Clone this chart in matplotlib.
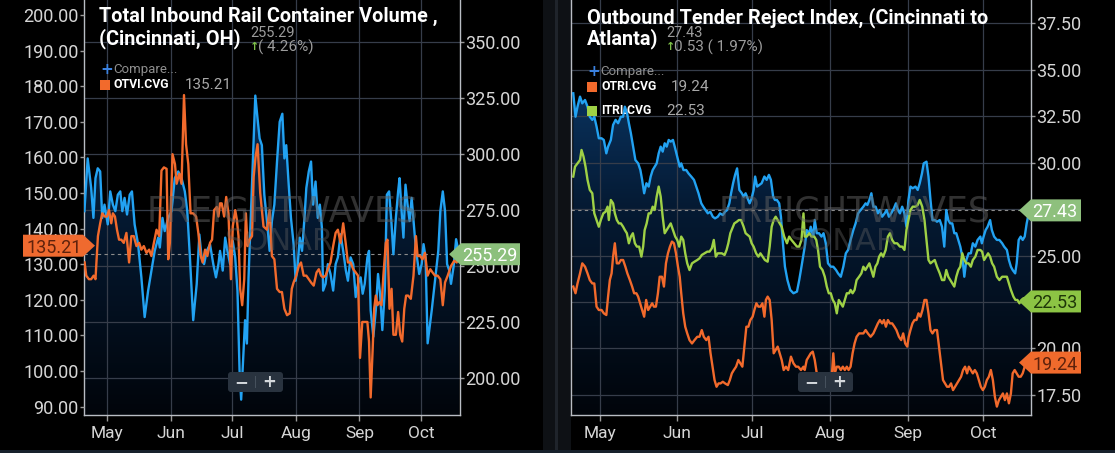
import numpy as np
import pandas as pd
import matplotlib
matplotlib.use("Agg")
import matplotlib.pyplot as plt
import matplotlib.dates as mdates
from matplotlib.colors import LinearSegmentedColormap
from matplotlib.patches import Polygon, Rectangle, FancyBboxPatch
from matplotlib.ticker import FixedLocator, FuncFormatter
from matplotlib.transforms import IdentityTransform

W, H = 1115, 453
BASE = pd.Timestamp("2021-05-01")
X_FIRST, X_LAST = -11.4, 172.1      # visible window, days from May 1

# ---- left chart: rail container volume (right axis) vs OTVI.CVG (left axis) ----
rail_days = [
    -11.2, -9.6, -7.9, -6.8, -5.8, -4.7, -3.5, -2.5, -1.4, 0.2,
    1.4, 2.7, 3.9, 5.1, 6.3, 7.3, 8.4, 9.6, 10.9, 12.0,
    13.3, 15.0, 16.6, 18.2, 19.9, 21.5, 23.1, 24.8, 25.6, 26.9,
    28.0, 29.7, 31.3, 32.9, 34.6, 36.2, 37.8, 39.0, 40.3, 41.9,
    43.6, 44.9, 46.0, 47.2, 48.5, 50.1, 51.7, 53.0, 54.2, 55.0,
    56.3, 57.5, 58.6, 59.9, 61.2, 62.4, 63.5, 64.5, 65.3, 66.1,
    67.2, 68.1, 68.9, 70.0, 71.0, 72.2, 73.3, 74.3, 75.4, 76.6,
    77.9, 79.2, 80.3, 81.5, 82.8, 84.1, 85.4, 86.4, 87.3, 88.5,
    89.6, 90.9, 91.9, 92.9, 93.9, 95.0, 96.2, 97.1, 98.3, 99.4,
    100.4, 101.6, 102.7, 103.7, 104.7, 105.3, 106.5, 107.6, 108.9, 110.2,
    111.4, 112.5, 113.8, 115.1, 116.4, 117.4, 118.7, 120.0, 121.2, 122.3,
    123.6, 124.6, 125.6, 126.9, 127.7, 128.5, 129.8, 131.0, 132.1, 133.1,
    134.2, 135.4, 136.4, 137.5, 138.7, 139.6, 140.8, 141.9, 142.6, 143.6,
    144.5, 145.5, 146.5, 147.5, 148.5, 149.4, 150.1, 151.1, 152.2, 153.4,
    154.3, 155.3, 156.3, 157.1, 158.3, 159.2, 160.4, 161.5, 162.5, 163.7,
    164.8, 165.8, 166.9, 167.7, 169.0, 170.2, 171.6]
rail_volume = [
    274.5, 298.0, 284.8, 271.5, 289.2, 293.6, 292.2, 271.5, 277.4, 268.6,
    283.3, 277.4, 274.5, 281.8, 283.3, 274.5, 280.4, 273.0, 281.8, 283.3,
    268.6, 259.7, 245.0, 227.3, 239.1, 248.0, 256.8, 262.7, 258.3, 271.5,
    265.6, 271.5, 274.5, 289.2, 292.2, 289.2, 283.3, 274.5, 253.8, 225.9,
    242.0, 264.1, 253.8, 250.9, 256.8, 259.7, 250.9, 245.0, 250.9, 256.8,
    248.0, 262.7, 256.8, 250.9, 261.2, 253.8, 239.1, 203.8, 190.5, 205.2,
    225.9, 215.5, 245.0, 271.5, 296.6, 326.0, 315.7, 306.9, 303.9, 281.8,
    270.1, 256.8, 270.1, 277.4, 296.6, 314.3, 317.9, 298.0, 303.9, 286.3,
    271.5, 259.8, 243.5, 250.9, 262.7, 256.8, 271.5, 284.8, 292.2, 296.6,
    277.4, 287.7, 271.5, 277.4, 267.1, 239.1, 242.1, 250.9, 246.5, 239.1,
    250.9, 253.9, 264.2, 256.8, 248.0, 243.5, 253.9, 250.9, 236.2, 242.1,
    245.0, 237.7, 242.1, 253.9, 256.8, 230.3, 218.5, 230.3, 246.5, 237.7,
    221.5, 239.1, 281.8, 283.3, 268.6, 255.3, 271.5, 283.3, 289.2, 274.5,
    262.7, 286.3, 277.4, 270.1, 280.4, 270.1, 262.7, 253.9, 246.5, 250.9,
    259.8, 253.9, 215.6, 221.5, 230.3, 237.7, 248.0, 256.8, 274.5, 283.3,
    274.5, 250.9, 248.0, 242.1, 250.0, 262.0, 255.29]

otvi_days = [
    -11.1, -10.3, -9.0, -7.9, -6.7, -5.8, -4.6, -3.5, -2.5, -1.3,
    -0.2, 0.8, 1.9, 2.7, 3.7, 4.7, 5.7, 6.8, 8.0, 9.3,
    10.6, 11.7, 12.9, 14.2, 15.5, 16.6, 17.8, 19.1, 20.4, 21.5,
    22.7, 24.0, 25.3, 26.4, 27.6, 28.9, 29.7, 30.5, 31.8, 33.0,
    33.8, 35.1, 36.2, 37.4, 38.4, 39.5, 40.6, 41.9, 43.3, 44.4,
    45.6, 46.5, 47.7, 48.8, 50.1, 51.1, 52.1, 53.4, 54.2, 55.0,
    55.8, 57.0, 58.0, 59.1, 60.3, 61.2, 62.4, 63.2, 64.0, 64.8,
    65.8, 66.8, 67.6, 68.4, 69.4, 70.6, 71.4, 72.3, 73.3, 74.6,
    76.2, 77.9, 79.2, 80.3, 81.5, 82.8, 84.1, 85.2, 86.4, 87.7,
    89.0, 90.0, 90.9, 92.2, 93.4, 94.5, 95.8, 97.1, 98.3, 99.4,
    100.7, 102.1, 103.2, 104.3, 105.3, 106.5, 107.6, 108.9, 110.2, 111.4,
    112.5, 113.8, 115.1, 116.3, 117.4, 118.7, 120.0, 121.2, 122.3, 123.3,
    124.4, 125.6, 126.9, 127.7, 128.5, 129.5, 130.2, 131.0, 131.8, 132.8,
    133.8, 134.7, 135.9, 136.7, 137.7, 138.7, 139.6, 140.8, 141.9, 142.9,
    143.9, 144.9, 145.8, 146.8, 148.1, 149.4, 150.6, 151.4, 152.7, 153.8,
    155.0, 156.3, 157.6, 158.7, 159.9, 161.2, 162.5, 163.7, 164.8, 166.1,
    167.7, 169.3, 170.5, 171.6]
otvi_values = [
    130.5, 126.8, 125.8, 125.8, 126.8, 125.8, 137.9, 141.5, 144.3, 143.4,
    143.4, 145.2, 141.5, 144.3, 143.4, 139.7, 136.9, 136.9, 136.0, 138.8,
    130.5, 137.9, 137.9, 135.1, 136.0, 134.1, 135.1, 133.2, 134.1, 132.3,
    136.0, 139.7, 137.9, 156.3, 157.2, 156.8, 131.4, 136.0, 160.9, 158.1,
    152.6, 155.4, 152.6, 177.5, 163.7, 158.1, 144.3, 144.3, 143.4, 138.8,
    132.3, 130.5, 134.1, 132.3, 136.0, 136.9, 145.2, 146.1, 143.4, 147.1,
    147.1, 143.4, 148.9, 144.3, 125.8, 140.6, 145.2, 142.5, 137.9, 123.1,
    118.5, 125.8, 144.3, 135.1, 136.9, 137.9, 154.5, 160.0, 163.7, 150.0,
    140.6, 139.7, 145.2, 132.3, 131.4, 123.1, 122.2, 122.2, 117.5, 115.7,
    116.2, 123.1, 124.9, 126.8, 129.5, 130.5, 126.8, 126.8, 125.8, 124.9,
    124.0, 127.7, 128.6, 126.8, 126.3, 126.8, 128.6, 130.5, 135.1, 138.8,
    139.7, 136.0, 141.5, 136.0, 130.5, 130.5, 128.6, 127.7, 126.8, 103.7,
    113.8, 113.8, 113.8, 108.3, 92.6, 106.5, 117.5, 121.2, 118.5, 119.4,
    118.5, 126.8, 136.0, 136.9, 117.5, 123.1, 110.2, 110.2, 116.6, 110.2,
    108.3, 117.5, 121.2, 121.2, 120.3, 126.8, 137.9, 132.3, 132.3, 131.4,
    133.2, 126.8, 128.6, 127.7, 126.8, 126.8, 125.8, 118.5, 124.9, 126.8,
    129.5, 131.0, 130.5, 133.0]

# ---- right chart: tender reject indices, Cincinnati to Atlanta ----
lane_days = [
    -10.5, -9.6, -8.8, -7.8, -6.9, -5.8, -4.8, -3.9, -2.9, -2.1,
    -1.2, -0.3, 0.8, 1.7, 2.7, 3.4, 4.5, 5.4, 6.4, 7.4,
    8.5, 9.4, 10.1, 11.0, 11.7, 12.5, 13.4, 14.3, 15.4, 16.3,
    17.0, 17.8, 18.7, 19.6, 20.4, 21.2, 22.0, 22.8, 23.6, 24.4,
    25.2, 26.0, 26.8, 27.6, 28.4, 29.3, 30.0, 31.0, 32.0, 32.6,
    33.5, 34.6, 35.5, 36.6, 37.7, 38.6, 39.5, 40.6, 41.4, 42.3,
    43.2, 44.2, 45.2, 46.1, 47.2, 48.1, 49.2, 50.1, 50.9, 51.8,
    52.5, 53.3, 54.1, 54.9, 55.8, 56.8, 57.5, 58.3, 59.1, 59.9,
    60.7, 61.5, 62.1, 62.9, 63.8, 64.7, 65.8, 66.7, 67.6, 68.4,
    69.3, 70.0, 70.8, 71.7, 72.4, 73.2, 74.0, 75.0, 76.1, 77.4,
    78.8, 79.7, 80.6, 81.9, 82.7, 83.7, 84.3, 85.3, 85.9, 86.7,
    87.6, 88.6, 89.4, 90.3, 91.2, 92.3, 93.3, 94.4, 95.2, 96.3,
    97.3, 98.3, 99.2, 100.2, 101.3, 102.2, 103.2, 104.2, 105.3, 106.2,
    106.9, 107.7, 108.5, 109.3, 110.2, 111.1, 111.9, 112.8, 113.8, 114.6,
    115.5, 116.4, 117.5, 118.3, 119.1, 119.9, 120.8, 121.7, 122.5, 123.3,
    124.1, 125.0, 126.1, 127.0, 127.8, 128.7, 129.4, 130.5, 131.3, 132.1,
    132.9, 133.8, 134.7, 135.8, 136.7, 137.6, 138.4, 139.2, 140.0, 140.8,
    141.6, 142.4, 143.2, 144.0, 144.8, 145.6, 146.4, 147.3, 148.2, 149.0,
    150.0, 150.9, 152.0, 152.6, 153.3, 154.1, 154.9, 155.9, 156.6, 157.5,
    158.6, 159.6, 160.7, 161.5, 162.6, 163.4, 164.2, 164.9, 165.9, 166.5,
    167.3, 168.1, 168.9, 169.7, 170.5, 171.3, 172.0]
lane_index = [
    33.73, 32.47, 33.01, 33.55, 33.19, 33.37, 33.01, 32.47, 32.30, 32.47,
    31.94, 31.31, 31.31, 31.22, 30.50, 30.86, 31.22, 32.03, 32.30, 32.12,
    32.47, 32.47, 33.01, 32.65, 32.12, 31.58, 30.86, 30.14, 29.96, 29.60,
    29.07, 28.35, 28.89, 28.71, 29.25, 29.60, 29.78, 29.96, 30.50, 30.86,
    30.59, 31.04, 30.86, 31.22, 31.13, 31.22, 30.86, 30.32, 29.78, 29.96,
    29.60, 29.60, 29.42, 29.25, 29.07, 28.71, 28.35, 27.81, 27.63, 27.45,
    27.27, 27.36, 27.09, 27.00, 27.09, 27.27, 27.18, 27.36, 27.45, 27.81,
    28.35, 28.89, 29.34, 29.69, 28.53, 28.35, 28.17, 28.35, 28.08, 27.81,
    28.08, 28.53, 29.25, 28.71, 28.80, 28.89, 29.25, 29.07, 29.34, 29.07,
    28.17, 27.99, 27.99, 27.81, 27.09, 25.66, 24.40, 23.68, 23.15, 22.97,
    23.06, 23.68, 24.40, 25.48, 26.37, 26.20, 26.55, 26.02, 26.91, 26.20,
    26.20, 26.02, 26.20, 25.66, 24.58, 24.40, 24.40, 24.22, 24.04, 23.86,
    24.40, 25.12, 25.30, 25.84, 26.37, 26.73, 27.27, 27.45, 27.63, 27.81,
    27.72, 27.99, 28.35, 27.63, 27.63, 27.27, 27.45, 27.09, 27.27, 27.45,
    27.09, 27.27, 27.54, 27.81, 27.45, 27.27, 27.63, 27.27, 26.55, 27.99,
    28.71, 28.62, 28.71, 28.53, 28.89, 29.42, 29.96, 30.05, 29.25, 27.99,
    26.91, 26.91, 26.82, 26.91, 26.55, 25.48, 27.45, 26.91, 26.73, 26.73,
    26.20, 26.20, 25.84, 25.48, 24.94, 23.86, 24.76, 25.12, 25.12, 25.66,
    25.48, 25.84, 26.02, 25.66, 26.02, 26.37, 26.55, 26.91, 26.37, 26.02,
    25.84, 25.84, 25.66, 25.48, 25.30, 24.76, 24.40, 24.22, 24.04, 24.58,
    25.84, 26.02, 25.84, 26.02, 26.73, 27.27, 27.43]

itri_days = [
    -10.5, -9.8, -8.8, -7.8, -7.2, -6.4, -5.6, -4.8, -3.9, -2.9,
    -2.1, -1.2, -0.3, 0.5, 1.5, 2.4, 3.2, 3.7, 4.5, 5.4,
    6.1, 6.9, 7.7, 8.5, 9.4, 10.1, 10.9, 11.7, 12.5, 13.3,
    14.1, 14.9, 15.8, 16.7, 17.4, 18.0, 18.8, 19.6, 20.4, 21.2,
    22.0, 22.8, 23.6, 24.4, 25.2, 26.0, 26.8, 27.6, 28.4, 29.3,
    30.2, 31.0, 31.8, 32.6, 33.4, 34.2, 35.0, 35.9, 36.9, 37.9,
    39.0, 39.9, 40.8, 41.9, 43.0, 43.9, 44.8, 45.6, 46.4, 47.2,
    48.0, 48.8, 49.9, 50.7, 51.4, 52.2, 53.0, 53.8, 54.8, 55.6,
    56.5, 57.5, 58.3, 59.1, 59.9, 60.7, 61.5, 62.5, 63.4, 64.2,
    65.1, 66.0, 67.1, 67.9, 68.7, 69.5, 70.3, 71.1, 71.9, 72.7,
    73.7, 74.8, 75.7, 76.6, 77.7, 78.8, 79.7, 80.6, 81.4, 81.9,
    82.7, 83.7, 84.6, 85.7, 86.5, 87.2, 88.0, 89.0, 89.9, 90.7,
    91.5, 92.3, 93.1, 93.9, 94.7, 95.5, 96.3, 97.1, 97.9, 98.7,
    99.6, 100.2, 101.0, 101.8, 102.6, 103.6, 104.5, 105.3, 106.1, 106.9,
    107.7, 108.5, 109.3, 110.1, 110.9, 111.6, 112.4, 113.2, 114.2, 115.1,
    115.9, 116.8, 117.7, 118.8, 119.9, 120.8, 121.7, 122.5, 123.3, 124.1,
    125.0, 126.1, 127.0, 127.8, 128.8, 129.7, 130.5, 131.3, 132.1, 132.9,
    133.8, 134.7, 135.8, 136.7, 137.6, 138.4, 139.2, 140.0, 140.8, 141.6,
    142.4, 143.2, 144.0, 144.8, 145.6, 146.4, 147.3, 148.2, 149.0, 150.0,
    150.9, 152.0, 152.7, 153.5, 154.3, 155.1, 155.9, 156.7, 157.5, 158.6,
    159.6, 160.7, 161.5, 162.6, 163.4, 164.2, 165.2, 166.0, 166.8, 167.6,
    168.4, 169.2, 170.5, 171.8]
itri_values = [
    29.25, 29.78, 29.96, 30.14, 30.68, 30.32, 29.78, 29.07, 28.53, 28.35,
    27.27, 26.91, 26.55, 26.91, 27.27, 27.36, 27.63, 26.91, 27.99, 27.81,
    27.27, 26.91, 26.73, 26.73, 26.55, 26.37, 26.20, 25.66, 26.02, 26.20,
    25.66, 25.48, 25.48, 24.94, 25.48, 26.37, 26.73, 27.27, 27.27, 27.63,
    27.45, 28.17, 28.71, 28.17, 27.09, 26.20, 26.37, 26.55, 26.73, 26.37,
    26.02, 25.84, 25.48, 26.02, 25.84, 25.12, 24.58, 24.22, 24.58, 24.67,
    24.76, 24.85, 25.03, 25.12, 25.21, 25.21, 25.39, 25.84, 24.94, 25.12,
    25.12, 25.12, 25.03, 25.30, 25.66, 26.20, 26.46, 26.73, 26.82, 26.91,
    26.91, 26.55, 26.20, 26.11, 26.02, 25.66, 25.48, 25.12, 24.94, 25.12,
    24.94, 24.76, 24.67, 25.48, 26.55, 26.91, 27.09, 26.91, 26.73, 26.55,
    26.02, 25.66, 26.02, 25.84, 25.66, 25.48, 25.48, 25.84, 27.27, 26.02,
    26.02, 26.20, 26.02, 26.02, 25.84, 25.30, 24.40, 24.22, 23.86, 23.33,
    22.97, 22.97, 22.61, 22.43, 21.89, 22.61, 22.43, 22.25, 22.61, 22.97,
    22.97, 23.15, 22.97, 23.15, 23.68, 23.86, 24.04, 24.40, 24.22, 24.40,
    24.58, 24.22, 23.86, 24.40, 24.58, 24.94, 25.12, 24.94, 25.30, 26.02,
    26.20, 25.84, 25.66, 25.66, 25.48, 25.48, 25.30, 26.37, 26.91, 27.45,
    27.63, 27.63, 27.72, 27.99, 27.63, 26.91, 25.84, 24.76, 24.58, 24.67,
    24.76, 24.40, 24.04, 23.68, 23.68, 24.22, 23.86, 23.68, 23.50, 23.33,
    23.86, 24.22, 24.40, 25.12, 24.76, 24.58, 24.58, 24.40, 24.76, 24.94,
    25.30, 25.30, 25.21, 24.76, 24.94, 25.12, 24.94, 24.58, 24.40, 23.86,
    23.68, 23.86, 23.86, 23.86, 23.50, 23.15, 22.79, 22.61, 22.61, 22.43,
    22.61, 22.70, 22.70, 22.53]

otri_days = [
    -10.5, -9.6, -8.8, -7.8, -6.9, -5.8, -4.8, -3.9, -2.9, -2.1,
    -1.2, -0.3, 0.8, 1.7, 2.7, 3.4, 4.1, 4.8, 5.4, 6.1,
    6.9, 7.7, 8.5, 9.4, 10.3, 11.1, 12.1, 13.0, 13.8, 14.7,
    15.4, 16.2, 17.0, 17.8, 18.6, 19.4, 20.2, 21.0, 21.7, 22.5,
    23.3, 24.0, 24.9, 25.7, 26.5, 27.3, 28.1, 28.9, 29.7, 30.5,
    31.3, 32.0, 32.6, 33.4, 34.2, 35.0, 35.9, 36.9, 37.9, 39.0,
    39.9, 40.8, 41.6, 42.6, 43.5, 44.3, 45.1, 45.9, 46.7, 47.5,
    48.3, 49.2, 50.1, 51.2, 52.0, 52.8, 53.6, 54.5, 55.4, 56.2,
    57.0, 57.8, 58.6, 59.4, 60.2, 61.1, 61.8, 62.6, 63.4, 64.2,
    65.0, 65.8, 66.4, 67.1, 67.9, 68.7, 69.5, 70.3, 71.1, 71.9,
    72.7, 73.5, 74.4, 75.3, 76.4, 77.4, 78.4, 79.3, 80.4, 81.4,
    81.9, 82.7, 83.5, 84.3, 85.1, 85.9, 86.7, 87.5, 88.3, 89.4,
    90.4, 91.5, 92.6, 93.3, 93.9, 94.7, 95.5, 96.3, 97.1, 97.9,
    98.7, 99.4, 100.2, 101.0, 101.8, 102.6, 103.6, 104.5, 105.3, 106.2,
    107.1, 108.2, 109.3, 110.2, 111.1, 111.9, 112.8, 113.5, 114.3, 115.1,
    115.9, 116.8, 117.7, 118.5, 119.5, 120.4, 121.2, 122.0, 122.8, 123.4,
    124.1, 124.9, 125.7, 126.5, 127.3, 128.1, 128.9, 129.7, 130.5, 131.3,
    132.1, 132.9, 133.7, 134.7, 135.5, 136.3, 137.1, 137.9, 138.7, 139.5,
    140.3, 141.1, 141.9, 142.7, 143.5, 144.3, 145.1, 145.9, 146.7, 147.4,
    148.2, 149.0, 149.8, 150.6, 151.4, 152.2, 153.0, 153.8, 154.6, 155.4,
    156.2, 157.0, 157.8, 158.6, 159.4, 160.2, 161.0, 161.8, 162.6, 163.4,
    164.2, 164.9, 165.7, 166.5, 167.3, 168.1, 168.9, 169.7, 170.5, 171.8]
otri_values = [
    23.33, 22.97, 23.50, 24.04, 24.58, 24.40, 24.04, 23.68, 23.50, 23.50,
    22.25, 22.07, 22.07, 21.89, 21.80, 22.79, 23.68, 24.04, 24.94, 25.66,
    24.58, 24.58, 24.76, 24.76, 24.40, 24.04, 23.68, 23.33, 22.97, 22.97,
    22.79, 22.43, 22.07, 21.71, 22.61, 22.07, 22.25, 22.43, 22.25, 22.25,
    22.97, 23.86, 23.86, 23.33, 24.58, 25.12, 25.48, 25.75, 25.66, 25.12,
    24.40, 23.86, 22.97, 21.89, 21.17, 20.81, 20.45, 20.27, 20.45, 20.63,
    20.63, 20.99, 20.63, 20.45, 20.63, 19.74, 19.02, 18.30, 17.94, 18.12,
    18.12, 18.21, 18.12, 18.03, 18.30, 18.66, 18.84, 19.02, 19.38, 19.20,
    19.02, 20.10, 21.17, 21.17, 21.53, 21.71, 22.07, 22.43, 22.25, 22.25,
    22.43, 21.71, 22.61, 22.79, 22.61, 21.53, 19.74, 19.92, 20.10, 19.74,
    19.38, 18.84, 19.02, 18.84, 19.56, 19.20, 19.02, 19.02, 18.84, 19.02,
    18.84, 19.38, 19.56, 19.74, 19.83, 19.38, 18.66, 18.12, 17.94, 17.94,
    17.85, 17.94, 18.30, 19.74, 18.66, 19.02, 19.02, 18.84, 19.02, 18.84,
    19.02, 18.84, 19.02, 19.74, 20.27, 20.63, 20.81, 20.81, 20.81, 20.99,
    20.81, 20.63, 20.81, 21.08, 21.35, 21.53, 21.35, 21.53, 21.17, 21.53,
    21.35, 21.35, 21.17, 20.99, 20.63, 20.45, 20.81, 20.27, 20.10, 20.63,
    20.99, 21.35, 21.53, 21.53, 21.89, 21.71, 22.07, 22.61, 22.61, 21.89,
    20.99, 20.81, 20.99, 20.99, 20.10, 19.20, 18.30, 18.12, 17.94, 17.94,
    18.12, 17.76, 17.94, 18.12, 18.30, 18.48, 18.84, 19.02, 18.66, 19.02,
    18.84, 18.66, 18.84, 18.66, 18.30, 17.94, 17.76, 17.94, 18.30, 18.48,
    18.84, 18.30, 17.40, 16.87, 17.22, 17.40, 17.58, 17.22, 17.58, 17.05,
    17.58, 18.66, 18.84, 18.66, 18.48, 18.48, 18.66, 19.02, 19.20, 19.24]

month_starts = ["2021-05-01", "2021-06-01", "2021-07-01", "2021-08-01", "2021-09-01", "2021-10-01"]

BLUE = "#22a2f2"
ORANGE = "#f26a2c"
GREEN = "#9fd146"
GRID = "#363d4a"
SPINE = "#b9bdc4"
TICKTXT = "#d6d6d6"
NUM_FONT = ["Roboto", "DejaVu Sans"]
TITLE_FONT = ["Liberation Sans Narrow", "Roboto", "DejaVu Sans"]

fill_cmap = LinearSegmentedColormap.from_list("sonar", ["#01050b", "#051a33", "#0d4680"])
PIX = IdentityTransform()


def to_dates(days):
    return BASE + pd.to_timedelta(np.asarray(days), unit="D")


def area_fill(ax, days, vals):
    x = mdates.date2num(to_dates(days))
    y0, y1 = ax.get_ylim()
    verts = [(x[0], y0)] + list(zip(x, vals)) + [(x[-1], y0)]
    poly = Polygon(verts, closed=True, facecolor="none", edgecolor="none")
    ax.add_patch(poly)
    grad = np.linspace(0, 1, 256).reshape(-1, 1)
    im = ax.imshow(grad, cmap=fill_cmap, origin="lower", aspect="auto",
                   extent=[x[0], x[-1], y0, y1], zorder=0.3, interpolation="bilinear")
    im.set_clip_path(poly)


def style_axes(ax):
    ax.set_facecolor("black")
    ax.set_xlim(BASE + pd.Timedelta(days=X_FIRST), BASE + pd.Timedelta(days=X_LAST))
    ax.xaxis.set_major_locator(FixedLocator(mdates.date2num(pd.to_datetime(month_starts))))
    ax.xaxis.set_major_formatter(mdates.DateFormatter("%b"))
    ax.tick_params(axis="x", colors="#9a9a9a", length=4, width=1, pad=4,
                   labelcolor=TICKTXT, labelsize=12.5)
    for lab in ax.get_xticklabels():
        lab.set_fontfamily(NUM_FONT)
    ax.grid(True, color=GRID, linewidth=0.9)
    ax.set_axisbelow("line")
    ax.spines["top"].set_visible(False)
    for side in ("left", "right", "bottom"):
        ax.spines[side].set_color(SPINE)
        ax.spines[side].set_linewidth(1.0)


def set_yticks(ax, ticks, side, covered=()):
    # tick labels hidden under a value badge are left blank
    ax.yaxis.set_major_locator(FixedLocator(ticks))
    ax.yaxis.set_major_formatter(FuncFormatter(
        lambda v, pos: "" if any(abs(v - c) < 1e-6 for c in covered) else f"{v:.2f}"))
    if side == "left":
        ax.yaxis.tick_left()
    else:
        ax.yaxis.tick_right()
    ax.tick_params(axis="y", colors="#9a9a9a", length=3, width=1, pad=1,
                   labelcolor=TICKTXT, labelsize=13)
    for lab in ax.get_yticklabels():
        lab.set_fontfamily(NUM_FONT)


def ptext(x, y, s, **kw):
    # x, y in image pixels measured from the top-left corner
    fig.text(x, H - y, s, transform=PIX, **kw)


def badge(ax, value, label, face, txt, tip_x, tip_side, width=60):
    y = ax.transData.transform((0, value))[1]
    h, tip = 22, 12
    if tip_side == "left":
        xs = [tip_x, tip_x + tip, tip_x + width, tip_x + width, tip_x + tip]
        cx = tip_x + tip + (width - tip) / 2 - 1
    else:
        xs = [tip_x, tip_x - tip, tip_x - width, tip_x - width, tip_x - tip]
        cx = tip_x - tip - (width - tip) / 2 + 1
    ys = [y, y + h / 2, y + h / 2, y - h / 2, y - h / 2]
    fig.add_artist(Polygon(list(zip(xs, ys)), closed=True, transform=PIX,
                           facecolor=face, edgecolor="none", zorder=6))
    fig.text(cx, y, label, transform=PIX, ha="center", va="center_baseline",
             color=txt, fontsize=13, family=NUM_FONT, zorder=7)


def zoom_buttons(x0, y_top):
    box = FancyBboxPatch((x0, H - y_top - 20), 55, 20, transform=PIX,
                         boxstyle="round,pad=0,rounding_size=3",
                         facecolor="#29333f", edgecolor="none", zorder=6)
    fig.add_artist(box)
    fig.add_artist(Rectangle((x0 + 27, H - y_top - 16), 1, 12, transform=PIX,
                             facecolor="#46515d", edgecolor="none", zorder=7))
    ptext(x0 + 13, y_top + 10, "\u2212", ha="center", va="center", color="#d4d8dc",
          fontsize=12, fontweight="bold", zorder=7)
    ptext(x0 + 41, y_top + 10, "+", ha="center", va="center", color="#d4d8dc",
          fontsize=12, fontweight="bold", zorder=7)


def watermark(cx1, cx2):
    ptext(cx1, 211, "FREIGHTWAVES", ha="center", va="center", color="#626262",
          alpha=0.5, fontsize=25, zorder=1.5)
    ptext(cx2, 241, "SONAR", ha="center", va="center", color="#626262",
          alpha=0.4, fontsize=22, zorder=1.5)


fig = plt.figure(figsize=(W / 100, H / 100), dpi=100, facecolor="black")

# gutter between the two charts and thin footer strip
fig.add_artist(Rectangle((543, 0), 28, H, transform=PIX, facecolor="#0e1115", edgecolor="none", zorder=-1))
fig.add_artist(Rectangle((555, 0), 3, H, transform=PIX, facecolor="#1f242b", edgecolor="none", zorder=-1))
fig.add_artist(Rectangle((0, 0), W, 3, transform=PIX, facecolor="#17212c", edgecolor="none", zorder=-1))

# ================= left chart =================
axL = fig.add_axes([84 / W, 38 / H, 376 / W, 415 / H])
axO = axL.twinx()
axL.set_ylim(183.65, 368.6)
axO.set_ylim(87.67, 204.2)
style_axes(axL)
axO.set_xlim(axL.get_xlim())
set_yticks(axL, [200, 225, 250, 275, 300, 325, 350], "right")
set_yticks(axO, [90, 100, 110, 120, 130, 140, 150, 160, 170, 180, 190, 200], "left")
axO.yaxis.set_label_position("left")
for s in axO.spines.values():
    s.set_visible(False)

area_fill(axL, rail_days, rail_volume)
axL.set_xlim(BASE + pd.Timedelta(days=X_FIRST), BASE + pd.Timedelta(days=X_LAST))
axL.set_ylim(183.65, 368.6)
axL.plot(to_dates(rail_days), rail_volume, color=BLUE, lw=1.7, zorder=3, solid_joinstyle="round")
axL.axhline(rail_volume[-1], color="#8c8c8c", lw=0.8, ls=(0, (3, 3)), zorder=2)
axO.plot(to_dates(otvi_days), otvi_values, color=ORANGE, lw=1.7, zorder=3, solid_joinstyle="round")

# ================= right chart =================
axR = fig.add_axes([571 / W, 38 / H, 459.7 / W, 415 / H])
axR.set_ylim(16.42, 38.75)
style_axes(axR)
set_yticks(axR, [17.5, 20.0, 22.5, 25.0, 27.5, 30.0, 32.5, 35.0, 37.5], "right",
           covered=(22.5, 27.5))
area_fill(axR, lane_days, lane_index)
axR.set_xlim(BASE + pd.Timedelta(days=X_FIRST), BASE + pd.Timedelta(days=X_LAST))
axR.set_ylim(16.42, 38.75)
axR.axhline(lane_index[-1], color="#8c8c8c", lw=0.8, ls=(0, (3, 3)), zorder=2)
axR.plot(to_dates(lane_days), lane_index, color=BLUE, lw=1.7, zorder=3, solid_joinstyle="round")
axR.plot(to_dates(itri_days), itri_values, color=GREEN, lw=1.7, zorder=4, solid_joinstyle="round")
axR.plot(to_dates(otri_days), otri_values, color=ORANGE, lw=1.7, zorder=4, solid_joinstyle="round")

# watermarks
watermark(283, 279)
watermark(855, 843)

# ---------- headers ----------
TITLE_SIZE = 14.3
ptext(99, 7, "Total Inbound Rail Container Volume ,", ha="left", va="top", color="white",
      fontsize=TITLE_SIZE, fontweight="bold", family=TITLE_FONT, zorder=8)
ptext(99, 28, "(Cincinnati, OH)", ha="left", va="top", color="white",
      fontsize=TITLE_SIZE, fontweight="bold", family=TITLE_FONT, zorder=8)
ptext(250, 26, "255.29", ha="left", va="top", color="#9c9c9c", fontsize=10.5, family=NUM_FONT, zorder=8)
ptext(250, 47, "\u2191", ha="left", va="center", color="#7ec24a", fontsize=8, fontweight="bold", zorder=8)
ptext(258, 47, "( 4.26%)", ha="left", va="center", color="#9c9c9c", fontsize=11, family=NUM_FONT, zorder=8)
ptext(100, 69, "+", ha="left", va="center", color="#3b82e0", fontsize=11, fontweight="bold", zorder=8)
ptext(113, 70, "Compare...", ha="left", va="center", color="#8f8f8f", fontsize=9.5, family=NUM_FONT, zorder=8)
fig.add_artist(Rectangle((100, H - 90), 10, 10, transform=PIX, facecolor=ORANGE, edgecolor="none", zorder=8))
ptext(114, 85, "OTVI.CVG", ha="left", va="center", color="white", fontsize=8.8,
      fontweight="bold", family=NUM_FONT, zorder=8)
ptext(185, 85, "135.21", ha="left", va="center", color="#a8a8a8", fontsize=11, family=NUM_FONT, zorder=8)

ptext(587, 7, "Outbound Tender Reject Index, (Cincinnati to", ha="left", va="top", color="white",
      fontsize=TITLE_SIZE, fontweight="bold", family=TITLE_FONT, zorder=8)
ptext(587, 28, "Atlanta)", ha="left", va="top", color="white",
      fontsize=TITLE_SIZE, fontweight="bold", family=TITLE_FONT, zorder=8)
ptext(666, 26, "27.43", ha="left", va="top", color="#9c9c9c", fontsize=10.5, family=NUM_FONT, zorder=8)
ptext(666, 47, "\u2191", ha="left", va="center", color="#7ec24a", fontsize=8, fontweight="bold", zorder=8)
ptext(674, 47, "0.53 ( 1.97%)", ha="left", va="center", color="#9c9c9c", fontsize=11, family=NUM_FONT, zorder=8)
ptext(587, 71, "+", ha="left", va="center", color="#3b82e0", fontsize=11, fontweight="bold", zorder=8)
ptext(600, 72, "Compare...", ha="left", va="center", color="#8f8f8f", fontsize=9.5, family=NUM_FONT, zorder=8)
fig.add_artist(Rectangle((587, H - 92), 10, 10, transform=PIX, facecolor=ORANGE, edgecolor="none", zorder=8))
ptext(601, 87, "OTRI.CVG", ha="left", va="center", color="white", fontsize=8.8,
      fontweight="bold", family=NUM_FONT, zorder=8)
ptext(671, 87, "19.24", ha="left", va="center", color="#a8a8a8", fontsize=11, family=NUM_FONT, zorder=8)
fig.add_artist(Rectangle((587, H - 116), 10, 10, transform=PIX, facecolor=GREEN, edgecolor="none", zorder=8))
ptext(601, 111, "ITRI.CVG", ha="left", va="center", color="white", fontsize=8.8,
      fontweight="bold", family=NUM_FONT, zorder=8)
ptext(666, 111, "22.53", ha="left", va="center", color="#a8a8a8", fontsize=11, family=NUM_FONT, zorder=8)

# ---------- value badges ----------
badge(axO, 135.21, "135.21", "#ef6a2f", "#5e220c", 95, "right", width=72)
badge(axL, 255.29, "255.29", "#8cc07c", "white", 449, "left", width=71)
badge(axR, 27.43, "27.43", "#8ec07d", "white", 1019, "left", width=62)
badge(axR, 22.53, "22.53", "#8cc444", "#1e3608", 1019, "left", width=62)
badge(axR, 19.24, "19.24", "#f06a2c", "#5e220c", 1019, "left", width=62)

zoom_buttons(228, 372)
zoom_buttons(798, 372)

fig.savefig("out.png", dpi=100, facecolor="black")
